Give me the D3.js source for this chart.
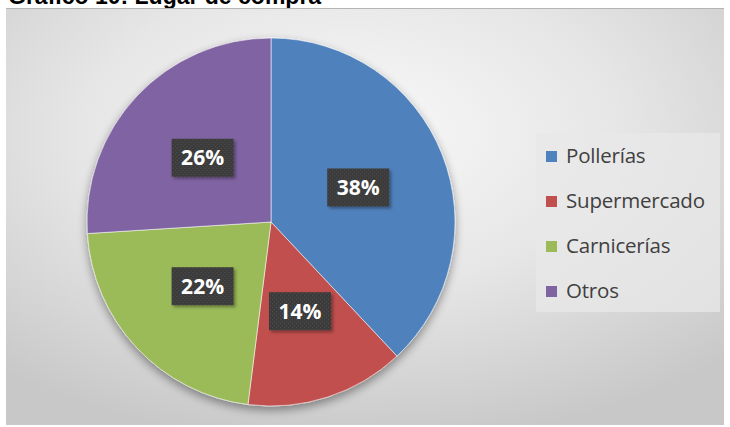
<!DOCTYPE html>
<html>
<head>
<meta charset="utf-8">
<script src="https://cdn.jsdelivr.net/npm/d3@7"></script>
<style>
  html, body { margin: 0; padding: 0; background: #ffffff; }
  svg { display: block; }
</style>
</head>
<body>
<svg id="chart" width="730" height="427"></svg>
<script>
// Lugar de compra: share of purchases by place
const categories = ["Pollerías", "Supermercado", "Carnicerías", "Otros"];
const shares = [38, 14, 22, 26];
const sliceColors = ["#4f81bd", "#c0504d", "#9bbb59", "#8064a2"];
const chartTitle = "Gráfico 10: Lugar de compra";

const svg = d3.select("#chart");
const defs = svg.append("defs");

// Background: soft radial gradient, light in the middle, grey toward the edges
const bg = defs.append("radialGradient").attr("id", "bgGrad")
  .attr("cx", "48%").attr("cy", "30%").attr("r", "75%");
bg.append("stop").attr("offset", "0%").attr("stop-color", "#f9f9f9");
bg.append("stop").attr("offset", "50%").attr("stop-color", "#e6e6e6");
bg.append("stop").attr("offset", "100%").attr("stop-color", "#c8c8c8");

// Drop shadow under the pie
const sh = defs.append("filter").attr("id", "pieShadow")
  .attr("x", "-20%").attr("y", "-20%").attr("width", "140%").attr("height", "140%");
sh.append("feGaussianBlur").attr("in", "SourceAlpha").attr("stdDeviation", 5);
sh.append("feOffset").attr("dx", 0).attr("dy", 4).attr("result", "off");
sh.append("feComponentTransfer").append("feFuncA").attr("type", "linear").attr("slope", 0.4);
const shm = sh.append("feMerge");
shm.append("feMergeNode");
shm.append("feMergeNode").attr("in", "SourceGraphic");

// Stippled dark fill for the data label boxes
const pat = defs.append("pattern").attr("id", "labelFill")
  .attr("width", 4).attr("height", 4).attr("patternUnits", "userSpaceOnUse");
pat.append("rect").attr("width", 4).attr("height", 4).attr("fill", "#3a3a3a");
pat.append("rect").attr("x", 0).attr("y", 0).attr("width", 1).attr("height", 1).attr("fill", "#555");
pat.append("rect").attr("x", 2).attr("y", 2).attr("width", 1).attr("height", 1).attr("fill", "#555");

const lblShadow = defs.append("filter").attr("id", "lblShadow")
  .attr("x", "-20%").attr("y", "-20%").attr("width", "150%").attr("height", "150%");
lblShadow.append("feDropShadow").attr("dx", 2).attr("dy", 2).attr("stdDeviation", 1.5)
  .attr("flood-color", "#000").attr("flood-opacity", 0.35);

// Title (runs above the top edge of the page)
svg.append("text")
  .attr("x", 8).attr("y", 4)
  .attr("font-family", "Liberation Sans, Arial, sans-serif")
  .attr("font-weight", "bold").attr("font-size", 23)
  .attr("fill", "#000")
  .text(chartTitle);

// Chart area
const frame = { x: 6, y: 8, w: 718, h: 417 };
svg.append("rect")
  .attr("x", frame.x).attr("y", frame.y).attr("width", frame.w).attr("height", frame.h)
  .attr("fill", "url(#bgGrad)");
svg.append("line")
  .attr("x1", frame.x).attr("x2", frame.x + frame.w)
  .attr("y1", frame.y + 0.5).attr("y2", frame.y + 0.5)
  .attr("stroke", "#b5b5b5").attr("stroke-width", 1);

// Pie
const cx = 271, cy = 222, radius = 184;
const pie = d3.pie().sort(null).value(d => d.value);
const data = categories.map((c, i) => ({ name: c, value: shares[i], color: sliceColors[i] }));
const arcs = pie(data);
const arc = d3.arc().innerRadius(0).outerRadius(radius);
const labelArc = d3.arc().innerRadius(radius * 0.51).outerRadius(radius * 0.51);

const g = svg.append("g").attr("transform", `translate(${cx},${cy})`);
g.append("g").attr("filter", "url(#pieShadow)")
  .selectAll("path").data(arcs).join("path")
  .attr("d", arc)
  .attr("fill", d => d.data.color)
  .attr("stroke", "rgba(255,255,255,0.55)")
  .attr("stroke-width", 1);

// Data labels
const total = d3.sum(shares);
const lbl = g.selectAll("g.lbl").data(arcs).join("g")
  .attr("class", "lbl")
  .attr("transform", d => {
    const [x, y] = labelArc.centroid(d);
    return `translate(${x},${y})`;
  });
lbl.append("rect")
  .attr("x", -31).attr("y", -19).attr("width", 62).attr("height", 38)
  .attr("fill", "url(#labelFill)")
  .attr("filter", "url(#lblShadow)");
lbl.append("text")
  .attr("text-anchor", "middle").attr("dy", "0.36em")
  .attr("font-family", "Open Sans, Lato, sans-serif")
  .attr("font-weight", "bold").attr("font-size", 21)
  .attr("fill", "#ffffff")
  .text(d => Math.round(d.data.value / total * 100) + "%");

// Legend
const legend = { x: 536, y: 133, w: 184, h: 179 };
svg.append("rect")
  .attr("x", legend.x).attr("y", legend.y).attr("width", legend.w).attr("height", legend.h)
  .attr("fill", "#e8e8e8").attr("fill-opacity", 0.75);

const rowY = d3.scalePoint().domain(categories).range([156, 291]);
const items = svg.selectAll("g.leg").data(data).join("g")
  .attr("class", "leg")
  .attr("transform", d => `translate(${legend.x + 10},${rowY(d.name)})`);
items.append("rect")
  .attr("x", 0).attr("y", -5).attr("width", 11).attr("height", 11)
  .attr("fill", d => d.color);
items.append("text")
  .attr("x", 20).attr("dy", "0.35em")
  .attr("font-family", "Open Sans, Lato, sans-serif")
  .attr("font-size", 20.5)
  .attr("letter-spacing", -0.2)
  .attr("fill", "#404040")
  .text(d => d.name);
</script>
</body>
</html>
